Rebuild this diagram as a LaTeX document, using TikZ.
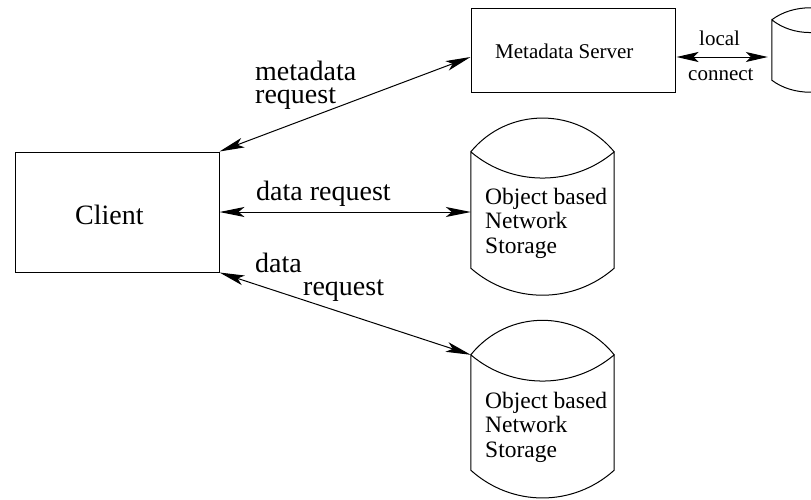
\documentclass[tikz,border=0pt]{standalone}
\usepackage{fontspec}
\setmainfont{Liberation Serif}
\usetikzlibrary{arrows.meta,calc}
\begin{document}
\begin{tikzpicture}[x=1pt,y=-1pt,
  box/.style={draw,line width=1pt,inner sep=0pt},
  ghost/.style={inner sep=0pt},
  outline/.style={draw,line width=1pt},
  conn/.style={line width=1pt,{Stealth[length=25pt,width=10pt,inset=6pt]}-{Stealth[length=25pt,width=10pt,inset=6pt]}},
  sconn/.style={line width=1pt,{Stealth[length=22pt,width=10pt,inset=5pt]}-{Stealth[length=22pt,width=10pt,inset=5pt]}},
  bigtxt/.style={inner sep=0pt,anchor=base west,font=\fontsize{28}{23}\selectfont},
  midtxt/.style={inner sep=0pt,anchor=base west,font=\fontsize{23.5}{24.5}\selectfont},
  smalltxt/.style={inner sep=0pt,anchor=base west,font=\fontsize{21}{23}\selectfont}]
\useasboundingbox (0,0) rectangle (811,499);

% boxes
\node[box,minimum width=204,minimum height=120] (client) at (117,212) {};
\node[bigtxt] (clientlbl) at (75,224) {Client};
\node[box,minimum width=204,minimum height=84] (ms) at (573,50) {};
\node[smalltxt] (mslbl) at (495,58) {Metadata Server};

% storage cylinders
\node[ghost,minimum width=143,minimum height=116] (s1) at (542.5,210) {};
\draw[outline] (s1.north west) .. controls +(37,-45) and +(-37,-45) .. (s1.north east)
  .. controls +(-41,35) and +(41,35) .. (s1.north west) -- (s1.south west)
  .. controls +(41,36) and +(-41,36) .. (s1.south east) -- (s1.north east);
\node[midtxt] (s1lbl) at (485,204) {\vtop{\baselineskip=24.5pt\hbox{Object based}\hbox{Network}\hbox{Storage}}};

\node[ghost,minimum width=143,minimum height=115] (s2) at (542.5,412.5) {};
\draw[outline] (s2.north west) .. controls +(37,-46) and +(-37,-46) .. (s2.north east)
  .. controls +(-41,35) and +(41,35) .. (s2.north west) -- (s2.south west)
  .. controls +(41,37) and +(-41,37) .. (s2.south east) -- (s2.north east);
\node[midtxt] (s2lbl) at (485,408) {\vtop{\baselineskip=24.5pt\hbox{Object based}\hbox{Network}\hbox{Storage}}};

\node[ghost,minimum width=76,minimum height=60] (sm) at (810,50) {};
\draw[outline] (sm.north west) .. controls +(21,-16) and +(-21,-16) .. (sm.north east)
  .. controls +(-21,17) and +(21,17) .. (sm.north west) -- (sm.south west)
  .. controls +(21,16) and +(-21,16) .. (sm.south east) -- (sm.north east);

% connectors
\draw[conn] (client.north east) -- ([yshift=-7pt]ms.west);
\draw[conn] (client.east) -- (client.east -| s1.west);
\draw[conn] (client.south east) -- (s2.north west);
\draw[sconn,shorten >=4pt,shorten <=1pt] ([yshift=-7pt]ms.east) -- ([yshift=-7pt]sm.west);

% labels
\node[bigtxt] (l1) at (255,80) {\vtop{\baselineskip=23pt\hbox{metadata}\hbox{request}}};
\node[bigtxt] (l2) at (256,200) {data request};
\node[bigtxt] (l3) at (255,272) {\vtop{\baselineskip=23pt\hbox{data}\hbox{\hspace{48pt}request}}};
\node[smalltxt] (l4a) at (699,45) {local};
\node[smalltxt] (l4b) at (688,80) {connect};
\end{tikzpicture}
\end{document}
